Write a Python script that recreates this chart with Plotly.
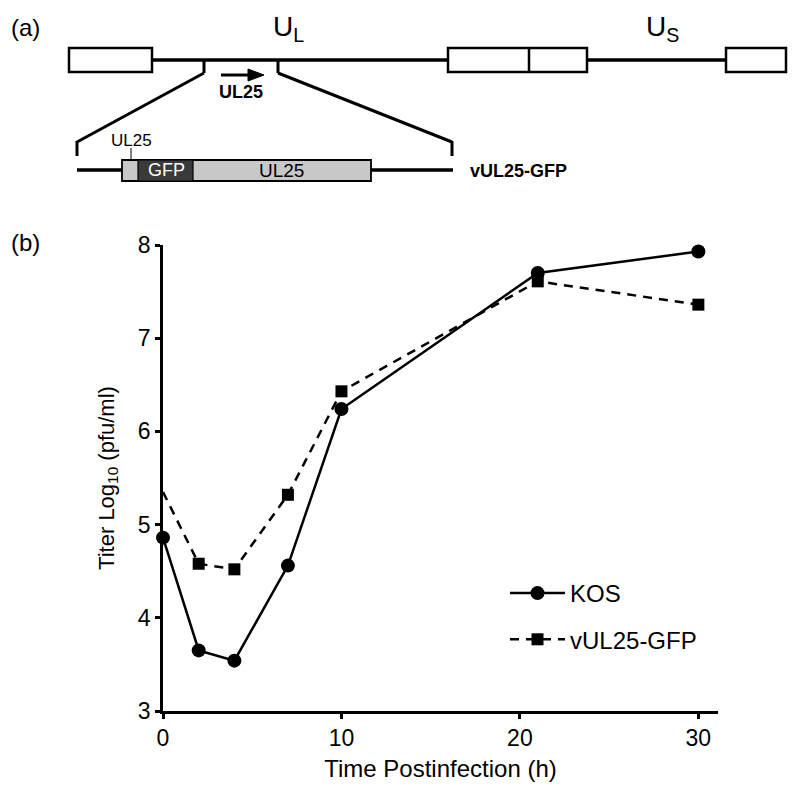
import plotly.graph_objects as go

# ---------------- data ----------------
time_h = [0, 2, 4, 7, 10, 21, 30]
kos_titer = [4.86, 3.65, 3.54, 4.56, 6.24, 7.70, 7.93]
gfp_titer = [5.35, 4.58, 4.52, 5.32, 6.43, 7.61, 7.36]
gfp_marked = [1, 2, 3, 4, 5, 6]  # t=0 of vUL25-GFP drawn without marker
x_ticks = [0, 10, 20, 30]
y_ticks = [3, 4, 5, 6, 7, 8]
series_names = ["KOS", "vUL25-GFP"]

# ---------------- layout geometry (pixels, page coords) ----------------
OFF = 8  # page body margin
W, H = 800 - OFF, 790 - OFF
L, R, T, B = 163, 718, 245, 711
FONT = "Liberation Sans, Arial, Helvetica, sans-serif"


def px(x):
    return (x - L) / (R - L)


def py(y):
    return (B - y) / (B - T)


fig = go.Figure()

fig.add_trace(go.Scatter(
    x=time_h, y=kos_titer, name=series_names[0], mode="lines+markers",
    line=dict(color="black", width=2.5),
    marker=dict(symbol="circle", size=14, color="black"),
    cliponaxis=False, legendgroup="a",
))
fig.add_trace(go.Scatter(
    x=time_h, y=gfp_titer, name=series_names[1], mode="lines+markers",
    line=dict(color="black", width=2.5, dash="9px,7px"),
    marker=dict(symbol="square", size=12, color="black"),
    selectedpoints=gfp_marked,
    selected=dict(marker=dict(opacity=1)),
    unselected=dict(marker=dict(opacity=0)),
    cliponaxis=False, legendgroup="b",
))

# ---------------- panel (a) schematic ----------------
shapes = []
LW = 3.5


def line(x0, y0, x1, y1, w=LW):
    shapes.append(dict(type="line", xref="paper", yref="paper",
                       x0=px(x0), y0=py(y0), x1=px(x1), y1=py(y1),
                       line=dict(color="black", width=w)))


def rect(x0, y0, x1, y1, fill="white", w=2.5):
    shapes.append(dict(type="rect", xref="paper", yref="paper",
                       x0=px(x0), y0=py(y0), x1=px(x1), y1=py(y1),
                       fillcolor=fill, line=dict(color="black", width=w)))


# genome backbone
line(152, 60, 448, 60)
line(587, 60, 726, 60)
rect(69, 48, 152, 72)
rect(448, 48, 587, 72)
line(529, 48, 529, 72, w=2.5)
rect(726, 48, 786, 72)

# zoom bracket
line(204, 59, 204, 73, w=3)
line(204, 73, 77, 142, w=3)
line(77, 141, 77, 156, w=3)
line(278, 59, 278, 73, w=3)
line(278, 73, 452, 142, w=3)
line(452, 141, 452, 156, w=3)

# arrow
line(221, 75, 252, 75, w=3)
shapes.append(dict(type="path", xref="paper", yref="paper",
                   path=f"M {px(248)} {py(69)} L {px(264)} {py(75)} L {px(248)} {py(81)} Z",
                   fillcolor="black", line=dict(color="black", width=1)))

# construct
line(77, 170, 122, 170)
line(371, 170, 453, 170)
rect(122, 160, 371, 181, fill="#c8c8c8", w=1.8)
rect(138, 160, 193, 181, fill="#3a3a3a", w=1.2)
line(131, 148, 131, 160, w=1)

text_items = [
    dict(text="(a)", x=25, y=27, size=24, color="black"),
    dict(text="U<sub>L</sub>", x=288, y=29, size=28, color="black"),
    dict(text="U<sub>S</sub>", x=662, y=29, size=28, color="black"),
    dict(text="<b>UL25</b>", x=241, y=92, size=18, color="black"),
    dict(text="UL25", x=131, y=140, size=17, color="black"),
    dict(text="GFP", x=166, y=170, size=18, color="white"),
    dict(text="UL25", x=281, y=170, size=19, color="black"),
    dict(text="<b>vUL25-GFP</b>", x=518, y=171, size=18, color="black"),
    dict(text="(b)", x=25, y=243, size=24, color="black"),
]
annotations = []
for a in text_items:
    annotations.append(dict(text=a["text"], x=px(a["x"]), y=py(a["y"]),
                            xref="paper", yref="paper",
                            showarrow=False, xanchor="center", yanchor="middle",
                            font=dict(family=FONT, size=a["size"], color=a["color"])))

fig.update_layout(
    width=W, height=H,
    margin=dict(l=L - OFF, r=W - (R - OFF), t=T - OFF, b=H - (B - OFF), pad=0),
    paper_bgcolor="white", plot_bgcolor="white",
    font=dict(family=FONT, size=22, color="black"),
    shapes=shapes, annotations=annotations,
    showlegend=True,
    legend=dict(x=px(505), y=py(571), xanchor="left", yanchor="top",
                bgcolor="rgba(0,0,0,0)", font=dict(size=24, family=FONT, color="black"),
                traceorder="grouped", tracegroupgap=12, itemwidth=55),
    xaxis=dict(range=[0, 31.1], tickvals=x_ticks, showgrid=False, zeroline=False,
               showline=True, linecolor="black", linewidth=2.5,
               ticks="outside", ticklen=5, tickwidth=2.5, tickcolor="black",
               tickfont=dict(size=23, color="black"),
               title=dict(text="Time Postinfection (h)",
                          font=dict(size=24, color="black"), standoff=10)),
    yaxis=dict(range=[3, 8], tickvals=y_ticks, showgrid=False, zeroline=False,
               showline=True, linecolor="black", linewidth=2.5,
               ticks="outside", ticklen=5, tickwidth=2.5, tickcolor="black",
               tickfont=dict(size=23, color="black"),
               title=dict(text="Titer Log<sub>10</sub> (pfu/ml)",
                          font=dict(size=22, color="black"), standoff=18)),
)

fig.write_html("out.html")
